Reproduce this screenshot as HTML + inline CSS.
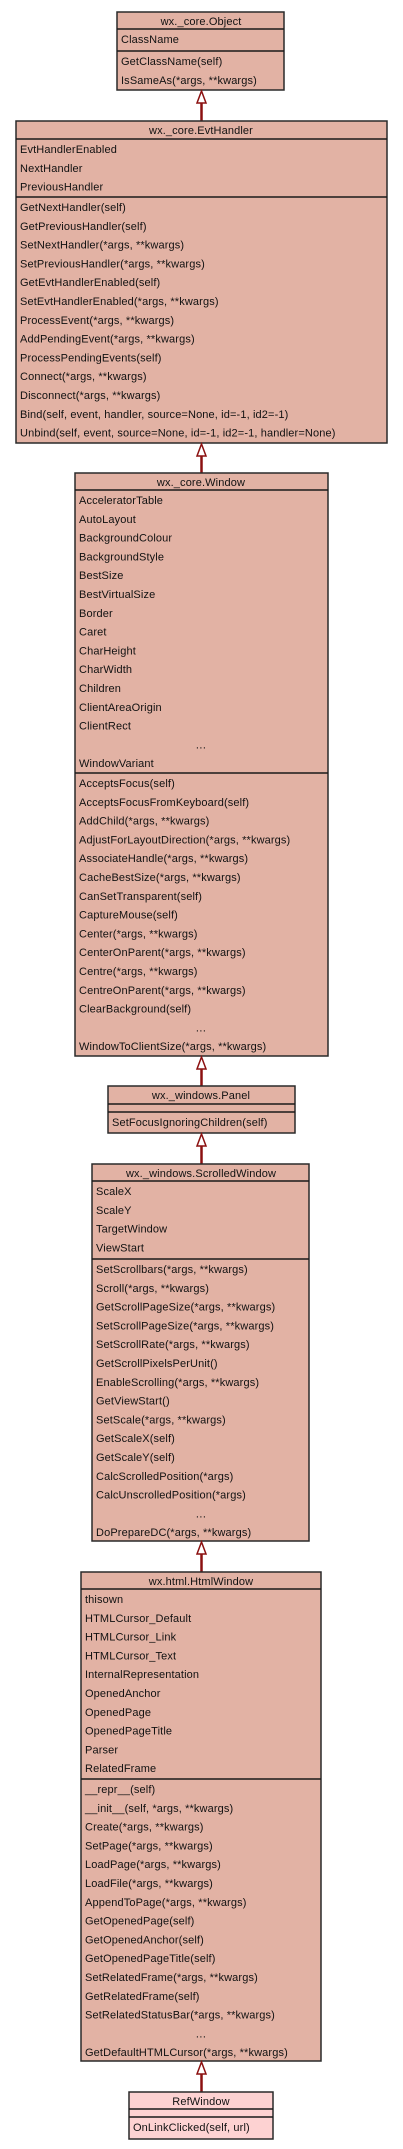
<!DOCTYPE html>
<html><head><meta charset="utf-8"><style>
html,body{margin:0;padding:0;background:#fff;}
svg{display:block;}
text{font-family:"Liberation Sans",sans-serif;font-size:11px;fill:#111;letter-spacing:0.13px;}
.c{text-anchor:middle;}
.b{fill:#e2b2a4;stroke:#2a2a2a;stroke-width:1.5;}
.p{fill:#fdd2d2;stroke:#2a2a2a;stroke-width:1.5;}
.l{stroke:#1a1a1a;stroke-width:1.5;}
.a{fill:#fff;stroke:#8b1010;stroke-width:1.5;}
.s{stroke:#8b1010;stroke-width:2.5;}
</style></head><body>
<svg width="403" height="2149" viewBox="0 0 403 2149" xmlns="http://www.w3.org/2000/svg">
<!-- Object -->
<rect class="b" x="117" y="12" width="167" height="78"/>
<line class="l" x1="117" y1="29" x2="284" y2="29"/>
<line class="l" x1="117" y1="51" x2="284" y2="51"/>
<text class="c" x="201" y="25">wx._core.Object</text>
<text x="121" y="43">ClassName</text>
<text x="121" y="65">GetClassName(self)</text>
<text x="121" y="83.8">IsSameAs(*args, **kwargs)</text>
<line class="s" x1="201.5" y1="103" x2="201.5" y2="121"/>
<polygon class="a" points="201.5,91 197,103 206,103"/>
<!-- EvtHandler -->
<rect class="b" x="16" y="121" width="371" height="322"/>
<line class="l" x1="16" y1="139" x2="387" y2="139"/>
<line class="l" x1="16" y1="197" x2="387" y2="197"/>
<text class="c" x="201" y="134">wx._core.EvtHandler</text>
<text x="20" y="153">EvtHandlerEnabled</text>
<text x="20" y="171.8">NextHandler</text>
<text x="20" y="190.6">PreviousHandler</text>
<text x="20" y="211">GetNextHandler(self)</text>
<text x="20" y="229.8">GetPreviousHandler(self)</text>
<text x="20" y="248.6">SetNextHandler(*args, **kwargs)</text>
<text x="20" y="267.4">SetPreviousHandler(*args, **kwargs)</text>
<text x="20" y="286.2">GetEvtHandlerEnabled(self)</text>
<text x="20" y="305">SetEvtHandlerEnabled(*args, **kwargs)</text>
<text x="20" y="323.8">ProcessEvent(*args, **kwargs)</text>
<text x="20" y="342.6">AddPendingEvent(*args, **kwargs)</text>
<text x="20" y="361.4">ProcessPendingEvents(self)</text>
<text x="20" y="380.2">Connect(*args, **kwargs)</text>
<text x="20" y="399">Disconnect(*args, **kwargs)</text>
<text x="20" y="417.8">Bind(self, event, handler, source=None, id=-1, id2=-1)</text>
<text x="20" y="436.6">Unbind(self, event, source=None, id=-1, id2=-1, handler=None)</text>
<line class="s" x1="201.5" y1="456" x2="201.5" y2="473"/>
<polygon class="a" points="201.5,444 197,456 206,456"/>
<!-- Window -->
<rect class="b" x="75" y="473" width="253" height="583"/>
<line class="l" x1="75" y1="490" x2="328" y2="490"/>
<line class="l" x1="75" y1="773" x2="328" y2="773"/>
<text class="c" x="201" y="486">wx._core.Window</text>
<text x="79" y="504">AcceleratorTable</text>
<text x="79" y="522.8">AutoLayout</text>
<text x="79" y="541.6">BackgroundColour</text>
<text x="79" y="560.4">BackgroundStyle</text>
<text x="79" y="579.2">BestSize</text>
<text x="79" y="598">BestVirtualSize</text>
<text x="79" y="616.8">Border</text>
<text x="79" y="635.6">Caret</text>
<text x="79" y="654.4">CharHeight</text>
<text x="79" y="673.2">CharWidth</text>
<text x="79" y="692">Children</text>
<text x="79" y="710.8">ClientAreaOrigin</text>
<text x="79" y="729.6">ClientRect</text>
<text class="c" x="201" y="748.4">…</text>
<text x="79" y="767.2">WindowVariant</text>
<text x="79" y="787">AcceptsFocus(self)</text>
<text x="79" y="805.8">AcceptsFocusFromKeyboard(self)</text>
<text x="79" y="824.6">AddChild(*args, **kwargs)</text>
<text x="79" y="843.4">AdjustForLayoutDirection(*args, **kwargs)</text>
<text x="79" y="862.2">AssociateHandle(*args, **kwargs)</text>
<text x="79" y="881">CacheBestSize(*args, **kwargs)</text>
<text x="79" y="899.8">CanSetTransparent(self)</text>
<text x="79" y="918.6">CaptureMouse(self)</text>
<text x="79" y="937.4">Center(*args, **kwargs)</text>
<text x="79" y="956.2">CenterOnParent(*args, **kwargs)</text>
<text x="79" y="975">Centre(*args, **kwargs)</text>
<text x="79" y="993.8">CentreOnParent(*args, **kwargs)</text>
<text x="79" y="1012.6">ClearBackground(self)</text>
<text class="c" x="201" y="1031.4">…</text>
<text x="79" y="1050.2">WindowToClientSize(*args, **kwargs)</text>
<line class="s" x1="201.5" y1="1069" x2="201.5" y2="1086"/>
<polygon class="a" points="201.5,1057 197,1069 206,1069"/>
<!-- Panel -->
<rect class="b" x="108" y="1086" width="187" height="47"/>
<line class="l" x1="108" y1="1104" x2="295" y2="1104"/>
<line class="l" x1="108" y1="1112" x2="295" y2="1112"/>
<text class="c" x="201" y="1099">wx._windows.Panel</text>
<text x="112" y="1126">SetFocusIgnoringChildren(self)</text>
<line class="s" x1="201.5" y1="1146" x2="201.5" y2="1164"/>
<polygon class="a" points="201.5,1134 197,1146 206,1146"/>
<!-- ScrolledWindow -->
<rect class="b" x="92" y="1164" width="217" height="377"/>
<line class="l" x1="92" y1="1181" x2="309" y2="1181"/>
<line class="l" x1="92" y1="1259" x2="309" y2="1259"/>
<text class="c" x="201" y="1177">wx._windows.ScrolledWindow</text>
<text x="96" y="1195">ScaleX</text>
<text x="96" y="1213.8">ScaleY</text>
<text x="96" y="1232.6">TargetWindow</text>
<text x="96" y="1251.4">ViewStart</text>
<text x="96" y="1273">SetScrollbars(*args, **kwargs)</text>
<text x="96" y="1291.8">Scroll(*args, **kwargs)</text>
<text x="96" y="1310.6">GetScrollPageSize(*args, **kwargs)</text>
<text x="96" y="1329.4">SetScrollPageSize(*args, **kwargs)</text>
<text x="96" y="1348.2">SetScrollRate(*args, **kwargs)</text>
<text x="96" y="1367">GetScrollPixelsPerUnit()</text>
<text x="96" y="1385.8">EnableScrolling(*args, **kwargs)</text>
<text x="96" y="1404.6">GetViewStart()</text>
<text x="96" y="1423.4">SetScale(*args, **kwargs)</text>
<text x="96" y="1442.2">GetScaleX(self)</text>
<text x="96" y="1461">GetScaleY(self)</text>
<text x="96" y="1479.8">CalcScrolledPosition(*args)</text>
<text x="96" y="1498.6">CalcUnscrolledPosition(*args)</text>
<text class="c" x="201" y="1517.4">…</text>
<text x="96" y="1536.2">DoPrepareDC(*args, **kwargs)</text>
<line class="s" x1="201.5" y1="1554" x2="201.5" y2="1572"/>
<polygon class="a" points="201.5,1542 197,1554 206,1554"/>
<!-- HtmlWindow -->
<rect class="b" x="81" y="1572" width="240" height="489"/>
<line class="l" x1="81" y1="1589" x2="321" y2="1589"/>
<line class="l" x1="81" y1="1779" x2="321" y2="1779"/>
<text class="c" x="201" y="1585">wx.html.HtmlWindow</text>
<text x="85" y="1603">thisown</text>
<text x="85" y="1621.8">HTMLCursor_Default</text>
<text x="85" y="1640.6">HTMLCursor_Link</text>
<text x="85" y="1659.4">HTMLCursor_Text</text>
<text x="85" y="1678.2">InternalRepresentation</text>
<text x="85" y="1697">OpenedAnchor</text>
<text x="85" y="1715.8">OpenedPage</text>
<text x="85" y="1734.6">OpenedPageTitle</text>
<text x="85" y="1753.4">Parser</text>
<text x="85" y="1772.2">RelatedFrame</text>
<text x="85" y="1793">__repr__(self)</text>
<text x="85" y="1811.8">__init__(self, *args, **kwargs)</text>
<text x="85" y="1830.6">Create(*args, **kwargs)</text>
<text x="85" y="1849.4">SetPage(*args, **kwargs)</text>
<text x="85" y="1868.2">LoadPage(*args, **kwargs)</text>
<text x="85" y="1887">LoadFile(*args, **kwargs)</text>
<text x="85" y="1905.8">AppendToPage(*args, **kwargs)</text>
<text x="85" y="1924.6">GetOpenedPage(self)</text>
<text x="85" y="1943.4">GetOpenedAnchor(self)</text>
<text x="85" y="1962.2">GetOpenedPageTitle(self)</text>
<text x="85" y="1981">SetRelatedFrame(*args, **kwargs)</text>
<text x="85" y="1999.8">GetRelatedFrame(self)</text>
<text x="85" y="2018.6">SetRelatedStatusBar(*args, **kwargs)</text>
<text class="c" x="201" y="2037.4">…</text>
<text x="85" y="2056.2">GetDefaultHTMLCursor(*args, **kwargs)</text>
<line class="s" x1="201.5" y1="2074" x2="201.5" y2="2092"/>
<polygon class="a" points="201.5,2062 197,2074 206,2074"/>
<!-- RefWindow -->
<rect class="p" x="129" y="2092" width="144" height="47"/>
<line class="l" x1="129" y1="2109" x2="273" y2="2109"/>
<line class="l" x1="129" y1="2117" x2="273" y2="2117"/>
<text class="c" x="201" y="2105">RefWindow</text>
<text x="133" y="2131">OnLinkClicked(self, url)</text>
</svg>
</body></html>
